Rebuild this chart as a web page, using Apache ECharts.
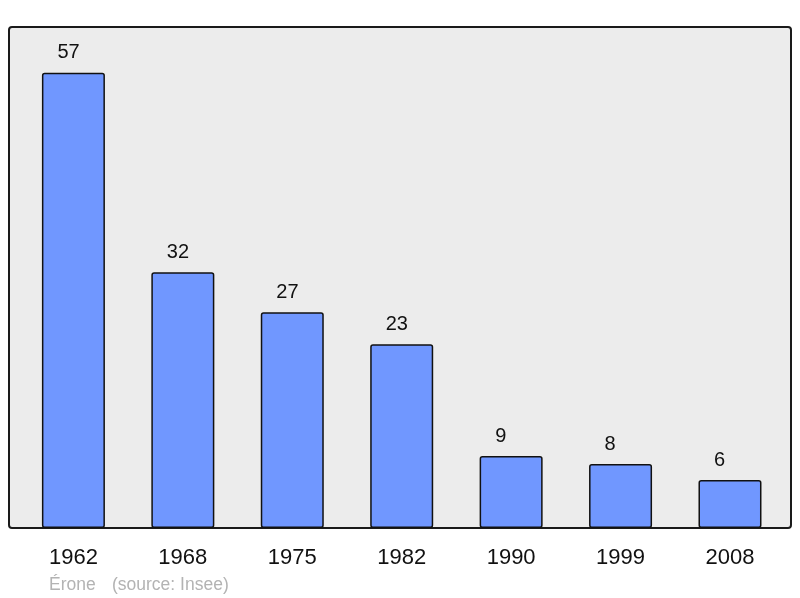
<!DOCTYPE html>
<html>
<head>
<meta charset="utf-8">
<script src="https://cdn.jsdelivr.net/npm/echarts@6/dist/echarts.min.js"></script>
<style>
  html, body { margin: 0; padding: 0; background: #fff; }
  #chart { width: 800px; height: 598px; }
</style>
</head>
<body>
<div id="chart"></div>
<script>
  // années de recensement et population
  var years = ['1962', '1968', '1975', '1982', '1990', '1999', '2008'];
  var population = [57, 32, 27, 23, 9, 8, 6];
  var author = 'Érone';
  var source = '(source: Insee)';

  var chart = echarts.init(document.getElementById('chart'));
  chart.setOption({
    animation: false,
    textStyle: { fontFamily: 'Liberation Sans, Arial, sans-serif' },
    // le cadre gris derrière les barres + crédits
    graphic: [
      {
        type: 'rect', z: -10, silent: true,
        shape: { x: 9, y: 27, width: 782, height: 501, r: 3 },
        style: { fill: '#ececec', stroke: '#1a1a1a', lineWidth: 2 }
      },
      {
        type: 'text', left: 49, top: 576, silent: true,
        style: { text: author, fill: '#b3b3b3', font: '17.5px "Liberation Sans", Arial, sans-serif' }
      },
      {
        type: 'text', left: 112, top: 576, silent: true,
        style: { text: source, fill: '#b3b3b3', font: '17.5px "Liberation Sans", Arial, sans-serif' }
      }
    ],
    grid: {
      left: 18.7,
      right: 15.3,
      top: 48.7,
      bottom: 70
    },
    xAxis: {
      type: 'category',
      data: years,
      axisLine: { show: false },
      axisTick: { show: false },
      axisLabel: {
        margin: 19,
        fontSize: 22,
        color: '#111'
      }
    },
    yAxis: {
      type: 'value',
      min: 0,
      max: 60,
      show: false
    },
    series: [
      {
        type: 'bar',
        data: population,
        barWidth: 63,
        itemStyle: {
          color: '#7097ff',
          borderColor: '#111',
          borderWidth: 1.5,
          borderRadius: 2
        },
        // étiquettes calées à gauche, ~15px après le bord de la barre
        label: {
          show: true,
          position: 'top',
          align: 'left',
          offset: [-16, 0],
          distance: 10,
          fontSize: 20,
          color: '#111'
        }
      }
    ]
  });
</script>
</body>
</html>
